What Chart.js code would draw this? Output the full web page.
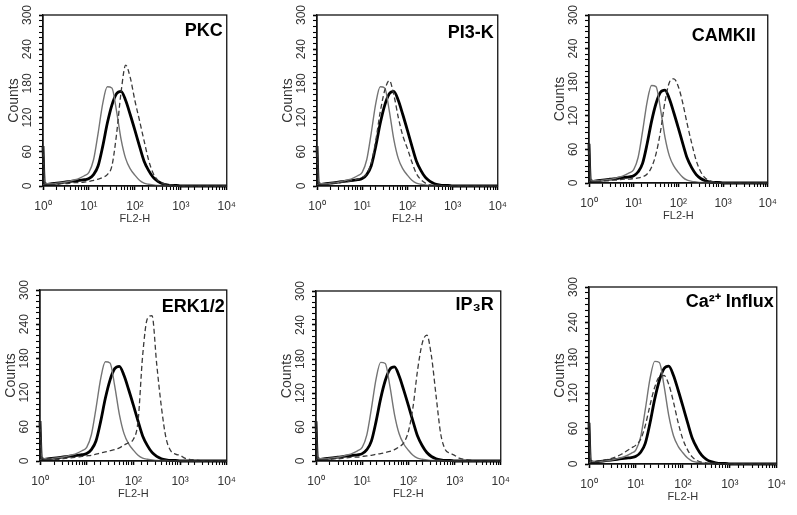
<!DOCTYPE html>
<html><head><meta charset="utf-8">
<script src="https://cdn.jsdelivr.net/npm/chart.js@4.4.1/dist/chart.umd.min.js"></script>
<style>
html,body{margin:0;padding:0;background:#fff;}
#wrap{position:relative;width:797px;height:515px;overflow:hidden;background:#fff;}
#wrap canvas{position:absolute;}
</style></head><body><div id="wrap"></div>
<script>
// ---------- data ----------
const fl2Channels = [1, 1.07, 1.26, 1.58, 2.0, 2.51, 3.16, 3.98, 5.01, 6.31, 7.94,
  10, 12.6, 15.8, 20.0, 25.1, 31.6, 39.8, 50.1, 63.1, 79.4,
  100, 126, 158, 200, 251, 316, 398, 501, 631, 794,
  1000, 1259, 1585, 1995, 2512, 3162, 3981, 5012, 6310, 7943, 10000];

const controlCounts = [70, 5, 4, 4, 5, 6, 7, 9, 11, 14, 18,
  24, 46, 92, 145, 174, 172, 132, 82, 48, 30,
  19, 10, 5, 3, 2, 1, 1, 1, 0, 0,
  0, 0, 0, 0, 0, 0, 0, 0, 0, 0, 0];
const stimulatedCounts = [70, 5, 3, 4, 5, 6, 7, 8, 9, 10, 11,
  13, 20, 35, 70, 110, 142, 162, 166, 150, 125,
  98, 70, 44, 27, 15, 8, 4, 2, 1, 1,
  0, 0, 0, 0, 0, 0, 0, 0, 0, 0, 0];

const pkcCounts = [65, 4, 3, 3, 3, 4, 4, 5, 6, 6, 7,
  8, 10, 12, 15, 20, 35, 90, 165, 212, 190,
  150, 115, 80, 45, 22, 10, 5, 3, 2, 1,
  0, 0, 0, 0, 0, 0, 0, 0, 0, 0, 0];
const pi3kCounts = [65, 4, 3, 3, 4, 5, 6, 7, 8, 10, 12,
  15, 22, 40, 80, 130, 168, 185, 160, 120, 88,
  66, 42, 22, 11, 5, 2, 1, 0, 0, 0,
  0, 0, 0, 0, 0, 0, 0, 0, 0, 0, 0];
const camkiiCounts = [65, 4, 3, 3, 4, 4, 5, 5, 6, 7, 7,
  8, 9, 11, 16, 28, 52, 92, 145, 180, 186,
  172, 142, 105, 70, 40, 20, 9, 4, 2, 1,
  0, 0, 0, 0, 0, 0, 0, 0, 0, 0, 0];
const erkCounts = [65, 4, 4, 4, 3, 3, 4, 5, 6, 7, 8,
  9, 10, 12, 14, 16, 18, 20, 23, 28, 32,
  38, 70, 185, 250, 255, 170, 95, 40, 18, 12,
  10, 5, 3, 2, 1, 0, 0, 0, 0, 0, 0];
const ip3rCounts = [65, 4, 3, 3, 3, 4, 4, 5, 6, 7, 7,
  8, 9, 10, 12, 13, 15, 17, 20, 25, 32,
  52, 95, 160, 208, 222, 185, 115, 48, 20, 14,
  10, 5, 3, 2, 1, 0, 0, 0, 0, 0, 0];
const caInfluxCounts = [65, 5, 4, 5, 6, 8, 10, 13, 17, 22, 27,
  32, 42, 65, 100, 130, 148, 150, 135, 105, 70,
  42, 24, 12, 6, 3, 2, 1, 0, 0, 0,
  0, 0, 0, 0, 0, 0, 0, 0, 0, 0, 0];

const panelTitles = ['PKC', 'PI3-K', 'CAMKII', 'ERK1/2', 'IP\u2083R', 'Ca\u00B2\u207A Influx'];
const inhibitorSeries = [pkcCounts, pi3kCounts, camkiiCounts, erkCounts, ip3rCounts, caInfluxCounts];

const countTickValues = [0, 60, 120, 180, 240, 300];
const decadeTickValues = [1, 10, 100, 1000, 10000];
const decadeTickLabels = ['10\u2070', '10\u00B9', '10\u00B2', '10\u00B3', '10\u2074'];
const xAxisTitle = 'FL2-H';
const yAxisTitle = 'Counts';

// ---------- layout (plot boxes: left, top, right, bottom; label inset: right, baseline) ----------
const plotBoxes = [
  [43, 15, 231, 186], [317, 15, 502, 186], [589, 15, 772, 183],
  [40, 290, 231, 461], [316, 291, 505, 461], [589, 287, 781, 464]
];
const labelInsets = [[4, 21], [4, 23], [12, 26], [2, 22], [7, 19], [3, 20]];

const Y_W = 40, X_H = 42, PAD_T = 10, PAD_R = 14;
const regFont = '"Liberation Sans", Arial, sans-serif';

const framePlugin = {
  id: 'frame',
  afterDraw(chart, args, opts) {
    const a = chart.chartArea, ctx = chart.ctx;
    ctx.save();
    ctx.strokeStyle = '#111';
    ctx.lineWidth = 1.3;
    ctx.strokeRect(a.left, a.top, a.right - a.left, a.bottom - a.top);
    ctx.font = 'bold 18px ' + regFont;
    ctx.fillStyle = '#000';
    ctx.textAlign = 'right';
    ctx.textBaseline = 'alphabetic';
    ctx.fillText(opts.text, a.right - opts.inset[0], a.top + opts.inset[1]);
    ctx.restore();
  }
};

const wrap = document.getElementById('wrap');
plotBoxes.forEach((box, i) => {
  const [L, T, R, B] = box;
  const cv = document.createElement('canvas');
  const w = (R - L) + Y_W + PAD_R, h = (B - T) + PAD_T + X_H;
  cv.width = w; cv.height = h;
  cv.style.left = (L - Y_W) + 'px';
  cv.style.top = (T - PAD_T) + 'px';
  cv.style.width = w + 'px'; cv.style.height = h + 'px';
  wrap.appendChild(cv);

  const mk = (arr) => fl2Channels.map((x, k) => ({ x: x, y: arr[k] }));
  new Chart(cv, {
    type: 'line',
    data: {
      datasets: [
        { label: 'inhibitor', data: mk(inhibitorSeries[i]), borderColor: '#3a3a3a', borderWidth: 1.3,
          borderDash: [5, 3], pointRadius: 0, tension: 0.25, cubicInterpolationMode: 'monotone', clip: false },
        { label: 'control', data: mk(controlCounts), borderColor: '#747474', borderWidth: 1.4,
          pointRadius: 0, tension: 0.25, cubicInterpolationMode: 'monotone', clip: false },
        { label: 'stimulated', data: mk(stimulatedCounts), borderColor: '#000', borderWidth: 2.8,
          pointRadius: 0, tension: 0.25, cubicInterpolationMode: 'monotone', clip: false }
      ]
    },
    options: {
      responsive: false, animation: false, devicePixelRatio: 1,
      layout: { padding: { top: PAD_T, right: PAD_R, left: 0, bottom: 0 } },
      plugins: { legend: { display: false }, tooltip: { enabled: false },
        frame: { text: panelTitles[i], inset: labelInsets[i] } },
      scales: {
        x: {
          type: 'logarithmic', min: 1, max: 10000,
          afterFit: (s) => { s.height = X_H; },
          border: { display: true, color: '#111', width: 1.3 },
          grid: { display: true, drawOnChartArea: false, drawTicks: true, tickLength: 4,
            tickColor: '#000', tickWidth: (c) => decadeTickValues.includes(c.tick && c.tick.value) ? 1.6 : 1.1 },
          ticks: {
            autoSkip: false, maxRotation: 0, minRotation: 0, padding: 9,
            color: '#333', font: { family: regFont, size: 12 },
            callback: (v) => { const j = decadeTickValues.indexOf(v); return j >= 0 ? decadeTickLabels[j] : ''; }
          },
          title: { display: true, text: xAxisTitle, color: '#333', font: { family: regFont, size: 11 },
            padding: { top: 0, bottom: 2 } }
        },
        y: {
          type: 'linear', min: 0, max: 300,
          afterFit: (s) => { s.width = Y_W; },
          border: { display: true, color: '#111', width: 1.3 },
          grid: { display: true, drawOnChartArea: false, drawTicks: true, tickLength: 4,
            tickColor: '#000', tickWidth: (c) => countTickValues.includes(c.tick && c.tick.value) ? 1.6 : 1.1 },
          ticks: {
            stepSize: 10, autoSkip: false, minRotation: 90, maxRotation: 90, padding: 1,
            crossAlign: 'center', color: '#333', font: { family: regFont, size: 12 },
            callback: (v) => countTickValues.includes(v) ? String(v) : ''
          },
          title: { display: true, text: yAxisTitle, color: '#333', font: { family: regFont, size: 14 },
            padding: { top: 3, bottom: 0 } }
        }
      }
    },
    plugins: [framePlugin]
  });
});
</script></body></html>
